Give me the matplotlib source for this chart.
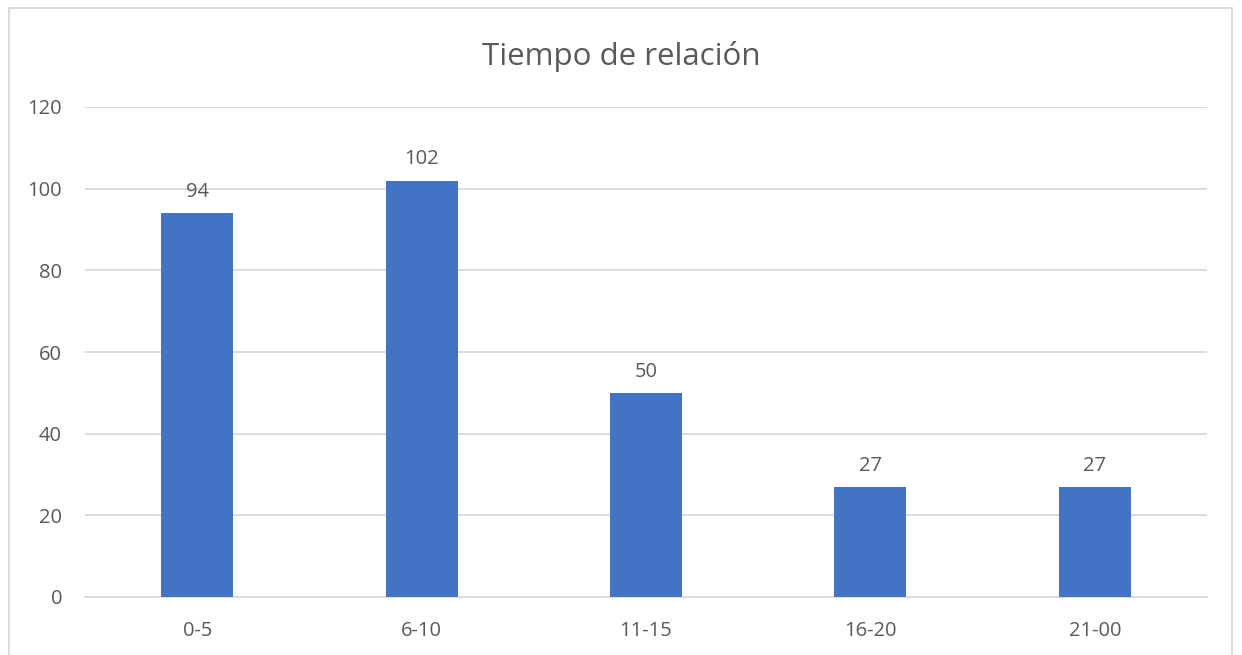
import matplotlib.pyplot as plt
from matplotlib.patches import Rectangle

categories = ["0-5", "6-10", "11-15", "16-20", "21-00"]
values = [94, 102, 50, 27, 27]
yticks = [0, 20, 40, 60, 80, 100, 120]

plt.rcParams['font.family'] = ['Open Sans', 'DejaVu Sans']
text_color = '#595959'
grid_color = '#D9D9D9'
bar_color = '#4472C4'

W, H = 1242, 655
fig = plt.figure(figsize=(W / 100, H / 100), dpi=100)

# chart area border (bottom edge cut off in reference)
fig.patches.append(Rectangle((9 / W, -0.05), (1232 - 9) / W, 1.05 - 8 / H,
                             transform=fig.transFigure, fill=False,
                             edgecolor=grid_color, linewidth=1.3))

ax = fig.add_axes([85 / W, 58 / H, (1207 - 85) / W, (597 - 107) / H])
x = range(len(categories))
bars = ax.bar(x, values, width=0.32, color=bar_color, zorder=3)

ax.set_xlim(-0.5, len(categories) - 0.5)
ax.set_ylim(0, 120)
ax.set_yticks(yticks)
ax.set_xticks(list(x))
ax.set_xticklabels(categories)
ax.yaxis.grid(True, color=grid_color, linewidth=1.3, zorder=0)
ax.set_axisbelow(True)
for s in ['top', 'right', 'left']:
    ax.spines[s].set_visible(False)
ax.spines['bottom'].set_color(grid_color)
ax.spines['bottom'].set_linewidth(1.3)
ax.tick_params(axis='both', length=0, colors=text_color, labelsize=14.5)
ax.tick_params(axis='y', pad=16.5)
ax.tick_params(axis='x', pad=17)

for b, v in zip(bars, values):
    ax.annotate(str(v), (b.get_x() + b.get_width() / 2, v),
                xytext=(0, 8), textcoords='offset points',
                ha='center', va='bottom', fontsize=14.5, color=text_color)

fig.text(0.5, 1 - 56 / H, "Tiempo de relación", ha='center', va='center',
         fontsize=22.5, color=text_color)

fig.savefig("out.png", dpi=100)
